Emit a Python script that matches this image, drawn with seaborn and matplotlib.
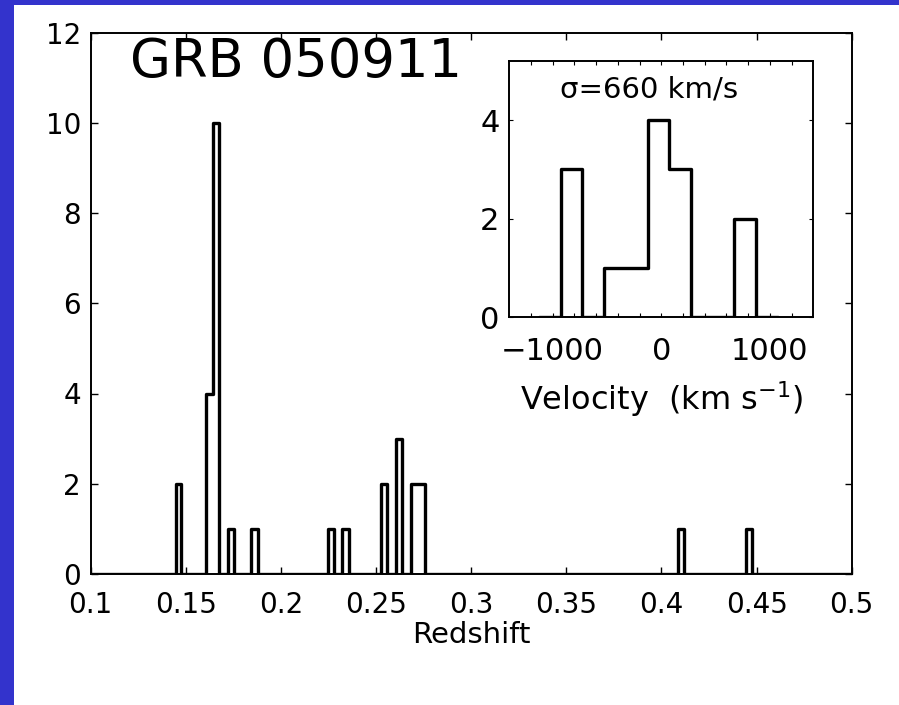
import numpy as np
import pandas as pd
import seaborn as sns
import matplotlib
matplotlib.use("Agg")
import matplotlib.pyplot as plt
from matplotlib.patches import Rectangle
from matplotlib.ticker import FixedLocator, FuncFormatter

# Redshift histogram: occupied bins (left edge, right edge) and galaxy counts
z_left = [0.1446, 0.1608, 0.1643, 0.1722, 0.1844, 0.2247, 0.2322,
          0.2524, 0.2603, 0.2685, 0.2720, 0.4087, 0.4442]
z_right = [0.1477, 0.1643, 0.1677, 0.1755, 0.1878, 0.2277, 0.2356,
           0.2557, 0.2636, 0.2720, 0.2756, 0.4121, 0.4476]
z_counts = [2, 4, 10, 1, 1, 1, 1, 2, 3, 2, 2, 1, 1]
z_range = [0.1, 0.5]
z_ticks = [0.1, 0.15, 0.2, 0.25, 0.3, 0.35, 0.4, 0.45, 0.5]
z_ticklabels = ["0.1", "0.15", "0.2", "0.25", "0.3", "0.35", "0.4", "0.45", "0.5"]
n_ticks = [0, 2, 4, 6, 8, 10, 12]

# Velocity histogram of the cluster members (km/s)
v_centers = [-1026, -826, -626, -426, -226, -26, 174, 374, 574, 774, 974]
v_counts = [0, 3, 0, 1, 1, 4, 3, 0, 0, 2, 0]
v_binwidth = 200
v_ticks = [-1200, -1000, -800, -600, -400, -200, 0, 200, 400, 600, 800, 1000, 1200]
v_labelled = [-1000, 0, 1000]
v_nticks = [0, 2, 4]

title_text = "GRB 050911"
sigma_text = "σ=660 km/s"

sns.set_style("ticks")
plt.rcParams["font.family"] = ["DejaVu Sans"]
plt.rcParams["axes.unicode_minus"] = True
for key in ["text.color", "axes.labelcolor", "xtick.color", "ytick.color",
            "xtick.labelcolor", "ytick.labelcolor", "axes.edgecolor"]:
    plt.rcParams[key] = "black"

fig = plt.figure(figsize=(8.99, 7.05), dpi=100, facecolor="white")

# Blue slide frame (left and top)
frame_color = "#3333cc"
fig.patches.append(Rectangle((0, 0), 14 / 899, 1, transform=fig.transFigure,
                             facecolor=frame_color, edgecolor="none", zorder=0))
fig.patches.append(Rectangle((0, 1 - 5 / 705), 1, 5 / 705, transform=fig.transFigure,
                             facecolor=frame_color, edgecolor="none", zorder=0))

# ---- main redshift histogram ----
ax = fig.add_axes([90.7 / 899, 131 / 705, 761 / 899, 541.5 / 705])
z_edges = sorted(set([z_range[0], z_range[1]] + z_left + z_right))
z_mid = [(l + r) / 2 for l, r in zip(z_left, z_right)]
df_z = pd.DataFrame({"z": z_mid, "n": z_counts})
sns.histplot(data=df_z, x="z", weights="n", bins=z_edges, element="step",
             fill=False, color="black", linewidth=2.4, ax=ax)
ax.set_xlim(*z_range)
ax.set_ylim(0, 12)
ax.set_xticks(z_ticks)
ax.set_xticklabels(z_ticklabels)
ax.set_yticks(n_ticks)
ax.set_xlabel("Redshift", fontsize=21, labelpad=2)
ax.set_ylabel("")
ax.tick_params(axis="both", which="both", direction="in", length=5, width=1.0,
               top=True, right=True, labelsize=20, color="black")
ax.tick_params(axis="x", pad=12)
ax.tick_params(axis="y", pad=7)
for s in ax.spines.values():
    s.set_linewidth(1.4)
ax.text(0.052, 0.918, title_text, transform=ax.transAxes, fontsize=38,
        ha="left", va="baseline")

# ---- inset velocity histogram ----
ax2 = fig.add_axes([509.3 / 899, 387.7 / 705, 304 / 899, 256.3 / 705])
v_edges = [c - v_binwidth / 2 for c in v_centers] + [v_centers[-1] + v_binwidth / 2]
df_v = pd.DataFrame({"v": v_centers, "n": v_counts})
sns.histplot(data=df_v, x="v", weights="n", bins=v_edges, element="step",
             fill=False, color="black", linewidth=2.4, ax=ax2)
ax2.set_xlim(-1400, 1400)
ax2.set_ylim(0, 5.2)
ax2.xaxis.set_major_locator(FixedLocator(v_ticks))
ax2.xaxis.set_major_formatter(FuncFormatter(
    lambda v, pos: (f"{int(v)}".replace("-", "\u2212") if int(round(v)) in v_labelled else "")))
ax2.set_yticks(v_nticks)
ax2.set_ylabel("")
ax2.set_xlabel(r"Velocity  (km s$^{-1}$)", fontsize=23, labelpad=10)
ax2.tick_params(axis="both", which="both", direction="in", length=3, width=0.8,
                top=True, right=True, labelsize=22, color="black")
ax2.tick_params(axis="x", pad=14)
ax2.tick_params(axis="y", pad=7)
for s in ax2.spines.values():
    s.set_linewidth(1.4)
ax2.text(0.46, 0.858, sigma_text, transform=ax2.transAxes, fontsize=21,
         ha="center", va="baseline")

fig.savefig("out.png", dpi=100, facecolor="white")
